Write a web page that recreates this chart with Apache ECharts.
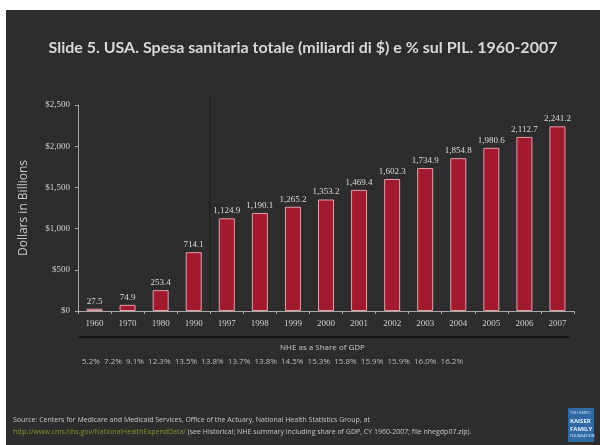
<!DOCTYPE html>
<html>
<head>
<meta charset="utf-8">
<script src="https://cdn.jsdelivr.net/npm/echarts@6/dist/echarts.min.js"></script>
<style>
  html, body { margin: 0; padding: 0; background: #ffffff; }
  #chart { position: absolute; left: 6px; top: 10px; width: 594px; height: 435px; }
</style>
</head>
<body>
<div id="chart"></div>
<script>
// US national health expenditure, billions of dollars
const years = ['1960', '1970', '1980', '1990', '1997', '1998', '1999', '2000',
               '2001', '2002', '2003', '2004', '2005', '2006', '2007'];
const spending = [27.5, 74.9, 253.4, 714.1, 1124.9, 1190.1, 1265.2, 1353.2,
                  1469.4, 1602.3, 1734.9, 1854.8, 1980.6, 2112.7, 2241.2];
// NHE as a share of GDP, same years
const gdpShare = ['5.2%', '7.2%', '9.1%', '12.3%', '13.5%', '13.8%', '13.7%', '13.8%',
                  '14.5%', '15.3%', '15.8%', '15.9%', '15.9%', '16.0%', '16.2%'];
const yTicks = { min: 0, max: 2500, interval: 500 };

const titleText = 'Slide 5. USA. Spesa sanitaria totale (miliardi di $) e % sul PIL. 1960-2007';
const sourceLine1 = 'Source: Centers for Medicare and Medicaid Services, Office of the Actuary, National Health Statistics Group, at';
const sourceLink = 'http://www.cms.hhs.gov/NationalHealthExpendData/';
const sourceRest = ' (see Historical; NHE summary including share of GDP, CY 1960-2007; file nhegdp07.zip).';

const fmtThousands = v => v.toLocaleString('en-US', { minimumFractionDigits: 1, maximumFractionDigits: 1 });

const chart = echarts.init(document.getElementById('chart'), null, { renderer: 'canvas' });

// offsets: container is shifted 6px right, 10px down
const OX = 6, OY = 10;

chart.setOption({
  backgroundColor: '#2d2d2d',
  animation: false,
  title: {
    text: titleText,
    left: 'center',
    top: 35 - OY,
    textStyle: { color: '#d8d8d8', fontFamily: 'Lato', fontWeight: 'bold', fontSize: 16 }
  },
  grid: { left: 78 - OX, right: 26, top: 105 - OY, bottom: 134, containLabel: false },
  xAxis: {
    type: 'category',
    data: years,
    axisLine: { lineStyle: { color: '#a8a8a8', width: 1 } },
    axisTick: { show: true, length: 3, lineStyle: { color: '#a8a8a8' } },
    axisLabel: { color: '#d0d0d0', fontFamily: 'Liberation Serif', fontSize: 9, margin: 8 }
  },
  yAxis: {
    type: 'value',
    min: yTicks.min, max: yTicks.max, interval: yTicks.interval,
    name: 'Dollars in Billions',
    nameLocation: 'middle',
    nameGap: 48,
    nameRotate: 90,
    nameTextStyle: { color: '#c8c8c8', fontFamily: 'Open Sans', fontSize: 12 },
    axisLine: { show: true, lineStyle: { color: '#a8a8a8' } },
    axisTick: { show: true, length: 3, lineStyle: { color: '#a8a8a8' } },
    splitLine: { show: false },
    axisLabel: {
      color: '#d0d0d0', fontFamily: 'Liberation Serif', fontSize: 9, margin: 8,
      formatter: v => '$' + v.toLocaleString('en-US')
    }
  },
  series: [{
    type: 'bar',
    data: spending,
    barWidth: 16,
    itemStyle: { color: '#a31a2e', borderColor: '#e2a0a8', borderWidth: 1 },
    label: {
      show: true, position: 'top', distance: 3,
      color: '#dcdcdc', fontFamily: 'Liberation Serif', fontSize: 9,
      formatter: p => fmtThousands(p.value)
    }
  }],
  graphic: [
    // thin divider marking the change of time scale
    { type: 'line', silent: true, z: 0,
      shape: { x1: 210 - OX, y1: 95 - OY, x2: 210 - OX, y2: 311 - OY },
      style: { stroke: '#1f1f1f', lineWidth: 1.2 } },
    // rule under the year labels
    { type: 'line', silent: true,
      shape: { x1: 79 - OX, y1: 337 - OY, x2: 569 - OX, y2: 337 - OY },
      style: { stroke: '#151515', lineWidth: 2 } },
    { type: 'text', left: 326 - OX - 46, top: 344 - OY,
      style: { text: 'NHE as a Share of GDP', fill: '#c8c8c8', font: '8px "Open Sans"' } },
    { type: 'text', left: 82 - OX, top: 358 - OY,
      style: { text: gdpShare.join('  '), fill: '#bdbdbd', font: '8px "Open Sans"' } },
    // source note
    { type: 'text', left: 13 - OX, top: 416 - OY,
      style: { text: sourceLine1, fill: '#c8c8c8', font: '7px "Open Sans"' } },
    { type: 'text', left: 13 - OX, top: 428 - OY,
      style: {
        text: '{a|' + sourceLink + '}{b|' + sourceRest + '}',
        rich: {
          a: { fill: '#7a9a2c', font: '7px "Open Sans"' },
          b: { fill: '#c8c8c8', font: '7px "Open Sans"' }
        }
      } },
    // foundation logo
    { type: 'group', left: 568 - OX, top: 408 - OY, children: [
      { type: 'rect', shape: { x: 0, y: 0, width: 26, height: 34 }, style: { fill: '#2f6aa6' } },
      { type: 'text', left: 2, top: 3, style: { text: 'THE HENRY J.', fill: '#cfe0f0', font: '3.5px "Open Sans"' } },
      { type: 'text', left: 2, top: 10, style: { text: 'KAISER', fill: '#e6eef8', font: 'bold 6px "Open Sans"' } },
      { type: 'text', left: 2, top: 18, style: { text: 'FAMILY', fill: '#e6eef8', font: 'bold 6px "Open Sans"' } },
      { type: 'text', left: 2, top: 26, style: { text: 'FOUNDATION', fill: '#e6eef8', font: '3.8px "Open Sans"' } }
    ] }
  ]
});
</script>
</body>
</html>
